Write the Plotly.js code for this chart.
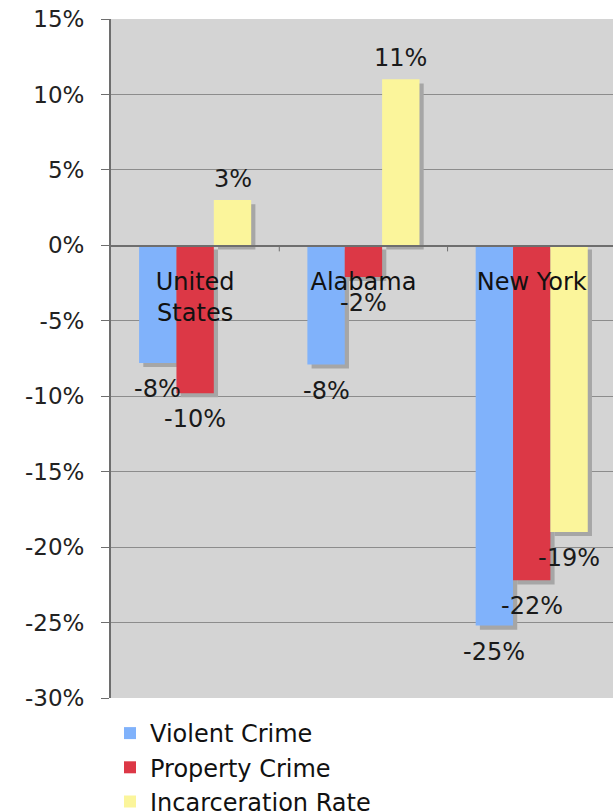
<!DOCTYPE html>
<html>
<head>
<meta charset="utf-8">
<script src="https://cdn.plot.ly/plotly-3.0.1.min.js"></script>
<style>
  html, body { margin: 0; padding: 0; background: #fff; }
  #chart { width: 613px; height: 812px; }
</style>
</head>
<body>
<div id="chart"></div>
<script>
// ---- data ----
const categories = ["United States", "Alabama", "New York"];
const categoryLabels = ["United<br>States", "Alabama", "New York"];
const seriesNames = ["Violent Crime", "Property Crime", "Incarceration Rate"];
const violentCrime = [-7.8, -7.9, -25.2];
const propertyCrime = [-9.8, -2.1, -22.2];
const incarcerationRate = [3.0, 11.0, -19.0];
const violentLabels = ["-8%", "-8%", "-25%"];
const propertyLabels = ["-10%", "-2%", "-22%"];
const incarcerationLabels = ["3%", "11%", "-19%"];
const yTickVals = [15, 10, 5, 0, -5, -10, -15, -20, -25, -30];
const yTickText = ["15%", "10%", "5%", "0%", "-5%", "-10%", "-15%", "-20%", "-25%", "-30%"];

// ---- styling ----
const colors = ["#80b2fb", "#dc3846", "#fbf59b"];
const shadowColor = "#a6a6a6";
const FONT = "DejaVu Sans, Verdana, sans-serif";
const yRange = [-30, 15];
const xRange = [-0.5, 2.483];
const barWidth = 0.222;
const offsets = [-0.333, -0.111, 0.111];
const shadowDX = 0.025;   // ~4px
const shadowDY = 0.27;    // ~4px in %

const values = [violentCrime, propertyCrime, incarcerationRate];
const labels = [violentLabels, propertyLabels, incarcerationLabels];
const xIdx = categories.map((c, i) => i);

const traces = [];
// shadows first
values.forEach((v, s) => {
  traces.push({
    type: "bar",
    x: xIdx,
    y: v,
    base: v.map(() => -shadowDY),
    offset: offsets[s] + shadowDX,
    width: barWidth,
    marker: { color: shadowColor, line: { width: 0 } },
    showlegend: false,
    hoverinfo: "skip"
  });
});
values.forEach((v, s) => {
  traces.push({
    type: "bar",
    name: seriesNames[s],
    legendgroup: "g" + s,
    x: xIdx,
    y: v,
    offset: offsets[s],
    width: barWidth,
    marker: { color: colors[s], line: { width: 0 } }
  });
});

// value labels
const annotations = [];
values.forEach((v, s) => {
  v.forEach((val, i) => {
    const neg = val < 0;
    annotations.push({
      xref: "x", yref: "y",
      x: i + offsets[s] + barWidth / 2,
      y: val,
      text: labels[s][i],
      showarrow: false,
      xanchor: "center",
      yanchor: neg ? "top" : "bottom",
      yshift: neg ? -10 : 5,
      font: { family: FONT, size: 24, color: "#1a1a1a" }
    });
  });
});

const layout = {
  width: 613,
  height: 812,
  margin: { l: 111, r: 0, t: 19, b: 114, pad: 0, autoexpand: false },
  paper_bgcolor: "#ffffff",
  plot_bgcolor: "#d4d4d4",
  barmode: "overlay",
  showlegend: true,
  legend: {
    xref: "container", yref: "container",
    x: 110 / 613, y: 1 - 711 / 812,
    xanchor: "left", yanchor: "top",
    bgcolor: "rgba(0,0,0,0)",
    font: { family: FONT, size: 24, color: "#111" },
    traceorder: "grouped",
    tracegroupgap: 0
  },
  xaxis: {
    type: "linear",
    range: xRange,
    anchor: "free",
    position: (0 - yRange[0]) / (yRange[1] - yRange[0]),
    tickmode: "array",
    tickvals: xIdx,
    ticktext: categoryLabels,
    tickangle: 0,
    automargin: false,
    showgrid: false,
    zeroline: false,
    showline: true,
    linecolor: "#6e6e6e",
    linewidth: 1.5,
    ticks: "",
    tickfont: { family: FONT, size: 24, color: "#111" },
    ticklabelstandoff: 14,
    fixedrange: true
  },
  yaxis: {
    range: yRange,
    domain: [0, 1],
    tickmode: "array",
    tickvals: yTickVals,
    ticktext: yTickText,
    automargin: false,
    showgrid: true,
    gridcolor: "#8c8c8c",
    gridwidth: 1,
    zeroline: false,
    showline: true,
    linecolor: "#6e6e6e",
    linewidth: 2,
    ticks: "outside",
    ticklen: 8,
    tickcolor: "#6e6e6e",
    tickfont: { family: FONT, size: 23, color: "#222" },
    ticklabelstandoff: 12,
    fixedrange: true
  },
  shapes: [],
  annotations: annotations
};

// boundary tick marks on the category axis (between categories)
const bounds = [];
for (let i = 0; i < categories.length - 1; i++) bounds.push(i + 0.5);
bounds.forEach(b => {
  layout.shapes.push({
    type: "line", xref: "x", yref: "y",
    x0: b, x1: b, y0: 0, y1: -0.4,
    line: { color: "#6e6e6e", width: 1 }
  });
});

Plotly.newPlot("chart", traces, layout, { displayModeBar: false, staticPlot: true });
</script>
</body>
</html>
